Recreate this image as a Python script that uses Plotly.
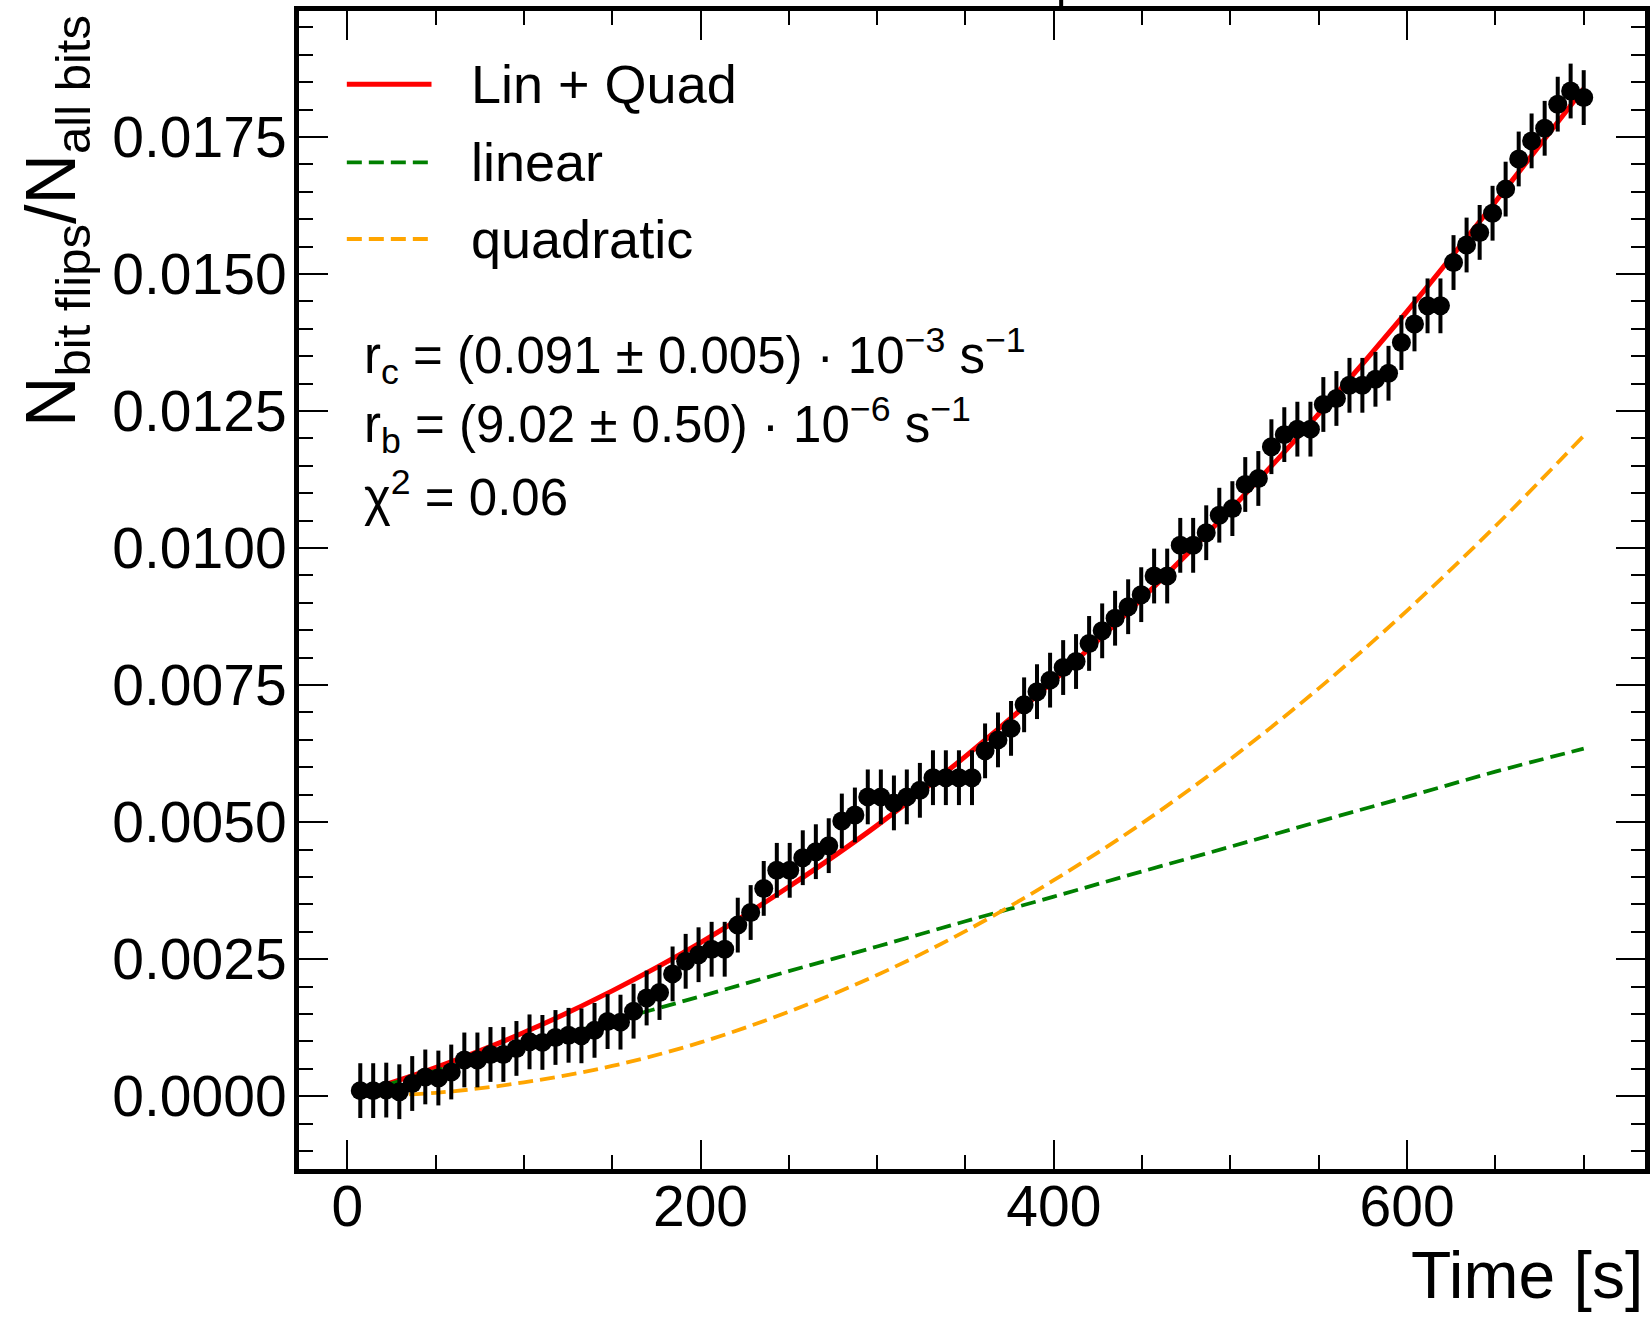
import plotly.graph_objects as go

# ---------------- data ----------------
time_s = [7.4, 14.7, 22.1, 29.5, 36.8, 44.2, 51.6, 58.9, 66.3, 73.7,
          81.1, 88.4, 95.8, 103.2, 110.5, 117.9, 125.3, 132.6, 140.0, 147.4,
          154.7, 162.1, 169.5, 176.8, 184.2, 191.6, 198.9, 206.3, 213.7, 221.1,
          228.4, 235.8, 243.2, 250.5, 257.9, 265.3, 272.6, 280.0, 287.4, 294.7,
          302.1, 309.5, 316.8, 324.2, 331.6, 338.9, 346.3, 353.7, 361.1, 368.4,
          375.8, 383.2, 390.5, 397.9, 405.3, 412.6, 420.0, 427.4, 434.7, 442.1,
          449.5, 456.8, 464.2, 471.6, 478.9, 486.3, 493.7, 501.1, 508.4, 515.8,
          523.2, 530.5, 537.9, 545.3, 552.6, 560.0, 567.4, 574.7, 582.1, 589.5,
          596.8, 604.2, 611.6, 618.9, 626.3, 633.7, 641.1, 648.4, 655.8, 663.2,
          670.5, 677.9, 685.3, 692.6, 700.0]

flip_fraction = [0.00010, 0.00010, 0.00011, 0.00008, 0.00023, 0.00035, 0.00033, 0.00044, 0.00066, 0.00066,
                 0.00076, 0.00076, 0.00087, 0.00099, 0.00098, 0.00107, 0.00111, 0.00110, 0.00120, 0.00136,
                 0.00135, 0.00155, 0.00179, 0.00189, 0.00223, 0.00246, 0.00258, 0.00268, 0.00268, 0.00312,
                 0.00335, 0.00379, 0.00412, 0.00412, 0.00435, 0.00446, 0.00457, 0.00502, 0.00513, 0.00546,
                 0.00546, 0.00535, 0.00546, 0.00558, 0.00581, 0.00581, 0.00581, 0.00581, 0.00630, 0.00650,
                 0.00671, 0.00714, 0.00738, 0.00759, 0.00782, 0.00793, 0.00826, 0.00849, 0.00872, 0.00893,
                 0.00915, 0.00949, 0.00949, 0.01005, 0.01005, 0.01028, 0.01060, 0.01072, 0.01116, 0.01127,
                 0.01185, 0.01207, 0.01217, 0.01217, 0.01262, 0.01273, 0.01297, 0.01297, 0.01308, 0.01319,
                 0.01375, 0.01409, 0.01442, 0.01442, 0.01521, 0.01553, 0.01576, 0.01611, 0.01655, 0.01710,
                 0.01743, 0.01766, 0.01810, 0.01834, 0.01822]

flip_error = 0.0005

curve_t = [10, 50, 100, 150, 200, 250, 300, 350, 400, 450, 500, 550, 600, 650, 700]
lin_quad = [0.00009, 0.00052, 0.00116, 0.00192, 0.00280, 0.00382, 0.00494, 0.00620,
            0.00758, 0.00908, 0.01070, 0.01245, 0.01432, 0.01632, 0.01838]
linear = [0.00009, 0.00046, 0.00091, 0.00137, 0.00182, 0.00228, 0.00273, 0.00319,
          0.00364, 0.00410, 0.00455, 0.00501, 0.00546, 0.00592, 0.00634]
quadratic = [0.000003, 0.00006, 0.00025, 0.00055, 0.00098, 0.00154, 0.00221, 0.00301,
             0.00394, 0.00498, 0.00615, 0.00744, 0.00886, 0.01040, 0.01205]

x_ticks = [0, 200, 400, 600]
y_ticks = [0.0, 0.0025, 0.005, 0.0075, 0.01, 0.0125, 0.015, 0.0175]
y_tick_text = ["0.0000", "0.0025", "0.0050", "0.0075", "0.0100", "0.0125", "0.0150", "0.0175"]

legend_names = ["Lin + Quad", "linear", "quadratic"]
legend_colors = ["#ff0000", "#008000", "#ffa500"]

stats_lines = [
    "r<sub>c</sub> = (0.091 ± 0.005) · 10<sup>−3</sup> s<sup>−1</sup>",
    "r<sub>b</sub> = (9.02 ± 0.50) · 10<sup>−6</sup> s<sup>−1</sup>",
    "χ<sup>2</sup> = 0.06",
]

# ---------------- layout geometry ----------------
W, H = 1651, 1317
ML, MR, MT, MB = 299, 1, 11, 148
PW, PH = W - ML - MR, H - MT - MB
FONT = "Liberation Sans, Arial, Helvetica, sans-serif"
SOLID_W, DASH_W, DASH = 5, 3.8, "15px,7px"


def fx(px):
    return (px - ML) / PW


def fy(py):
    return (H - MB - py) / PH


fig = go.Figure()

fig.add_trace(go.Scatter(x=curve_t, y=lin_quad, mode="lines",
                         line=dict(color=legend_colors[0], width=SOLID_W, shape="spline"),
                         name=legend_names[0], showlegend=False))
fig.add_trace(go.Scatter(x=curve_t, y=linear, mode="lines",
                         line=dict(color=legend_colors[1], width=DASH_W, dash=DASH, shape="spline"),
                         name=legend_names[1], showlegend=False))
fig.add_trace(go.Scatter(x=curve_t, y=quadratic, mode="lines",
                         line=dict(color=legend_colors[2], width=DASH_W, dash=DASH, shape="spline"),
                         name=legend_names[2], showlegend=False))
fig.add_trace(go.Scatter(x=time_s, y=flip_fraction, mode="markers",
                         marker=dict(color="black", size=19, line=dict(width=0)),
                         error_y=dict(type="constant", value=flip_error, color="black", thickness=4, width=0),
                         name="data", showlegend=False))

axis_common = dict(
    showline=True, linecolor="black", linewidth=5, mirror="ticks",
    ticks="inside", ticklen=29, tickwidth=2, tickcolor="black",
    showgrid=False, zeroline=False,
    tickfont=dict(family=FONT, size=57, color="black"),
)

fig.update_xaxes(range=[-27.3, 734.7], tickvals=x_ticks, ticklabelstandoff=-16,
                 minor=dict(dtick=50, tick0=0, ticks="inside", ticklen=14, tickwidth=2, tickcolor="black"),
                 **axis_common)
fig.update_yaxes(range=[-0.00133, 0.0198], tickvals=y_ticks, ticktext=y_tick_text, ticklabelstandoff=-4,
                 minor=dict(dtick=0.0005, tick0=0, ticks="inside", ticklen=14, tickwidth=2, tickcolor="black"),
                 **axis_common)

shapes = []
annotations = []

# legend drawn as line samples with text labels
legend_y = [84.3, 162.3, 239.0]
for name, col, ly in zip(legend_names, legend_colors, legend_y):
    dash = "solid" if name == legend_names[0] else DASH
    wid = SOLID_W if name == legend_names[0] else DASH_W
    shapes.append(dict(type="line", xref="paper", yref="paper", x0=fx(347), x1=fx(432), y0=fy(ly), y1=fy(ly),
                       line=dict(color=col, width=wid, dash=dash)))
    annotations.append(dict(text=name, xref="paper", yref="paper", x=fx(470), y=fy(ly), xanchor="left",
                            yanchor="middle", showarrow=False, font=dict(family=FONT, size=54, color="black")))

# fit results text
stats_y = [356, 425, 494]
for line, sy in zip(stats_lines, stats_y):
    annotations.append(dict(text=line, xref="paper", yref="paper", x=fx(362), y=fy(sy), xanchor="left",
                            yanchor="middle", showarrow=False, font=dict(family=FONT, size=51, color="black")))

# axis titles
annotations.append(dict(text="Time [s]", xref="paper", yref="paper", x=1.0, y=fy(1275), xanchor="right",
                        yanchor="middle", showarrow=False, font=dict(family=FONT, size=66, color="black")))
annotations.append(dict(text="N<sub>bit flips</sub>/N<sub>all bits</sub>", xref="paper", yref="paper",
                        x=fx(9), y=fy(13), xanchor="left", yanchor="top", textangle=-90, showarrow=False,
                        font=dict(family=FONT, size=70, color="black")))

# stub of the neighbouring panel's tick above the frame
shapes.append(dict(type="line", xref="paper", yref="paper", x0=fx(1064), x1=fx(1064), y0=fy(0), y1=fy(10),
                   line=dict(color="black", width=4)))

fig.update_layout(
    width=W, height=H,
    margin=dict(l=ML, r=MR, t=MT, b=MB, pad=0),
    paper_bgcolor="white", plot_bgcolor="white",
    showlegend=False,
    font=dict(family=FONT, color="black"),
    shapes=shapes, annotations=annotations,
)

fig.write_html("out.html", config={"displayModeBar": False},
               post_script="document.body.style.margin='0';document.body.style.overflow='hidden';")
